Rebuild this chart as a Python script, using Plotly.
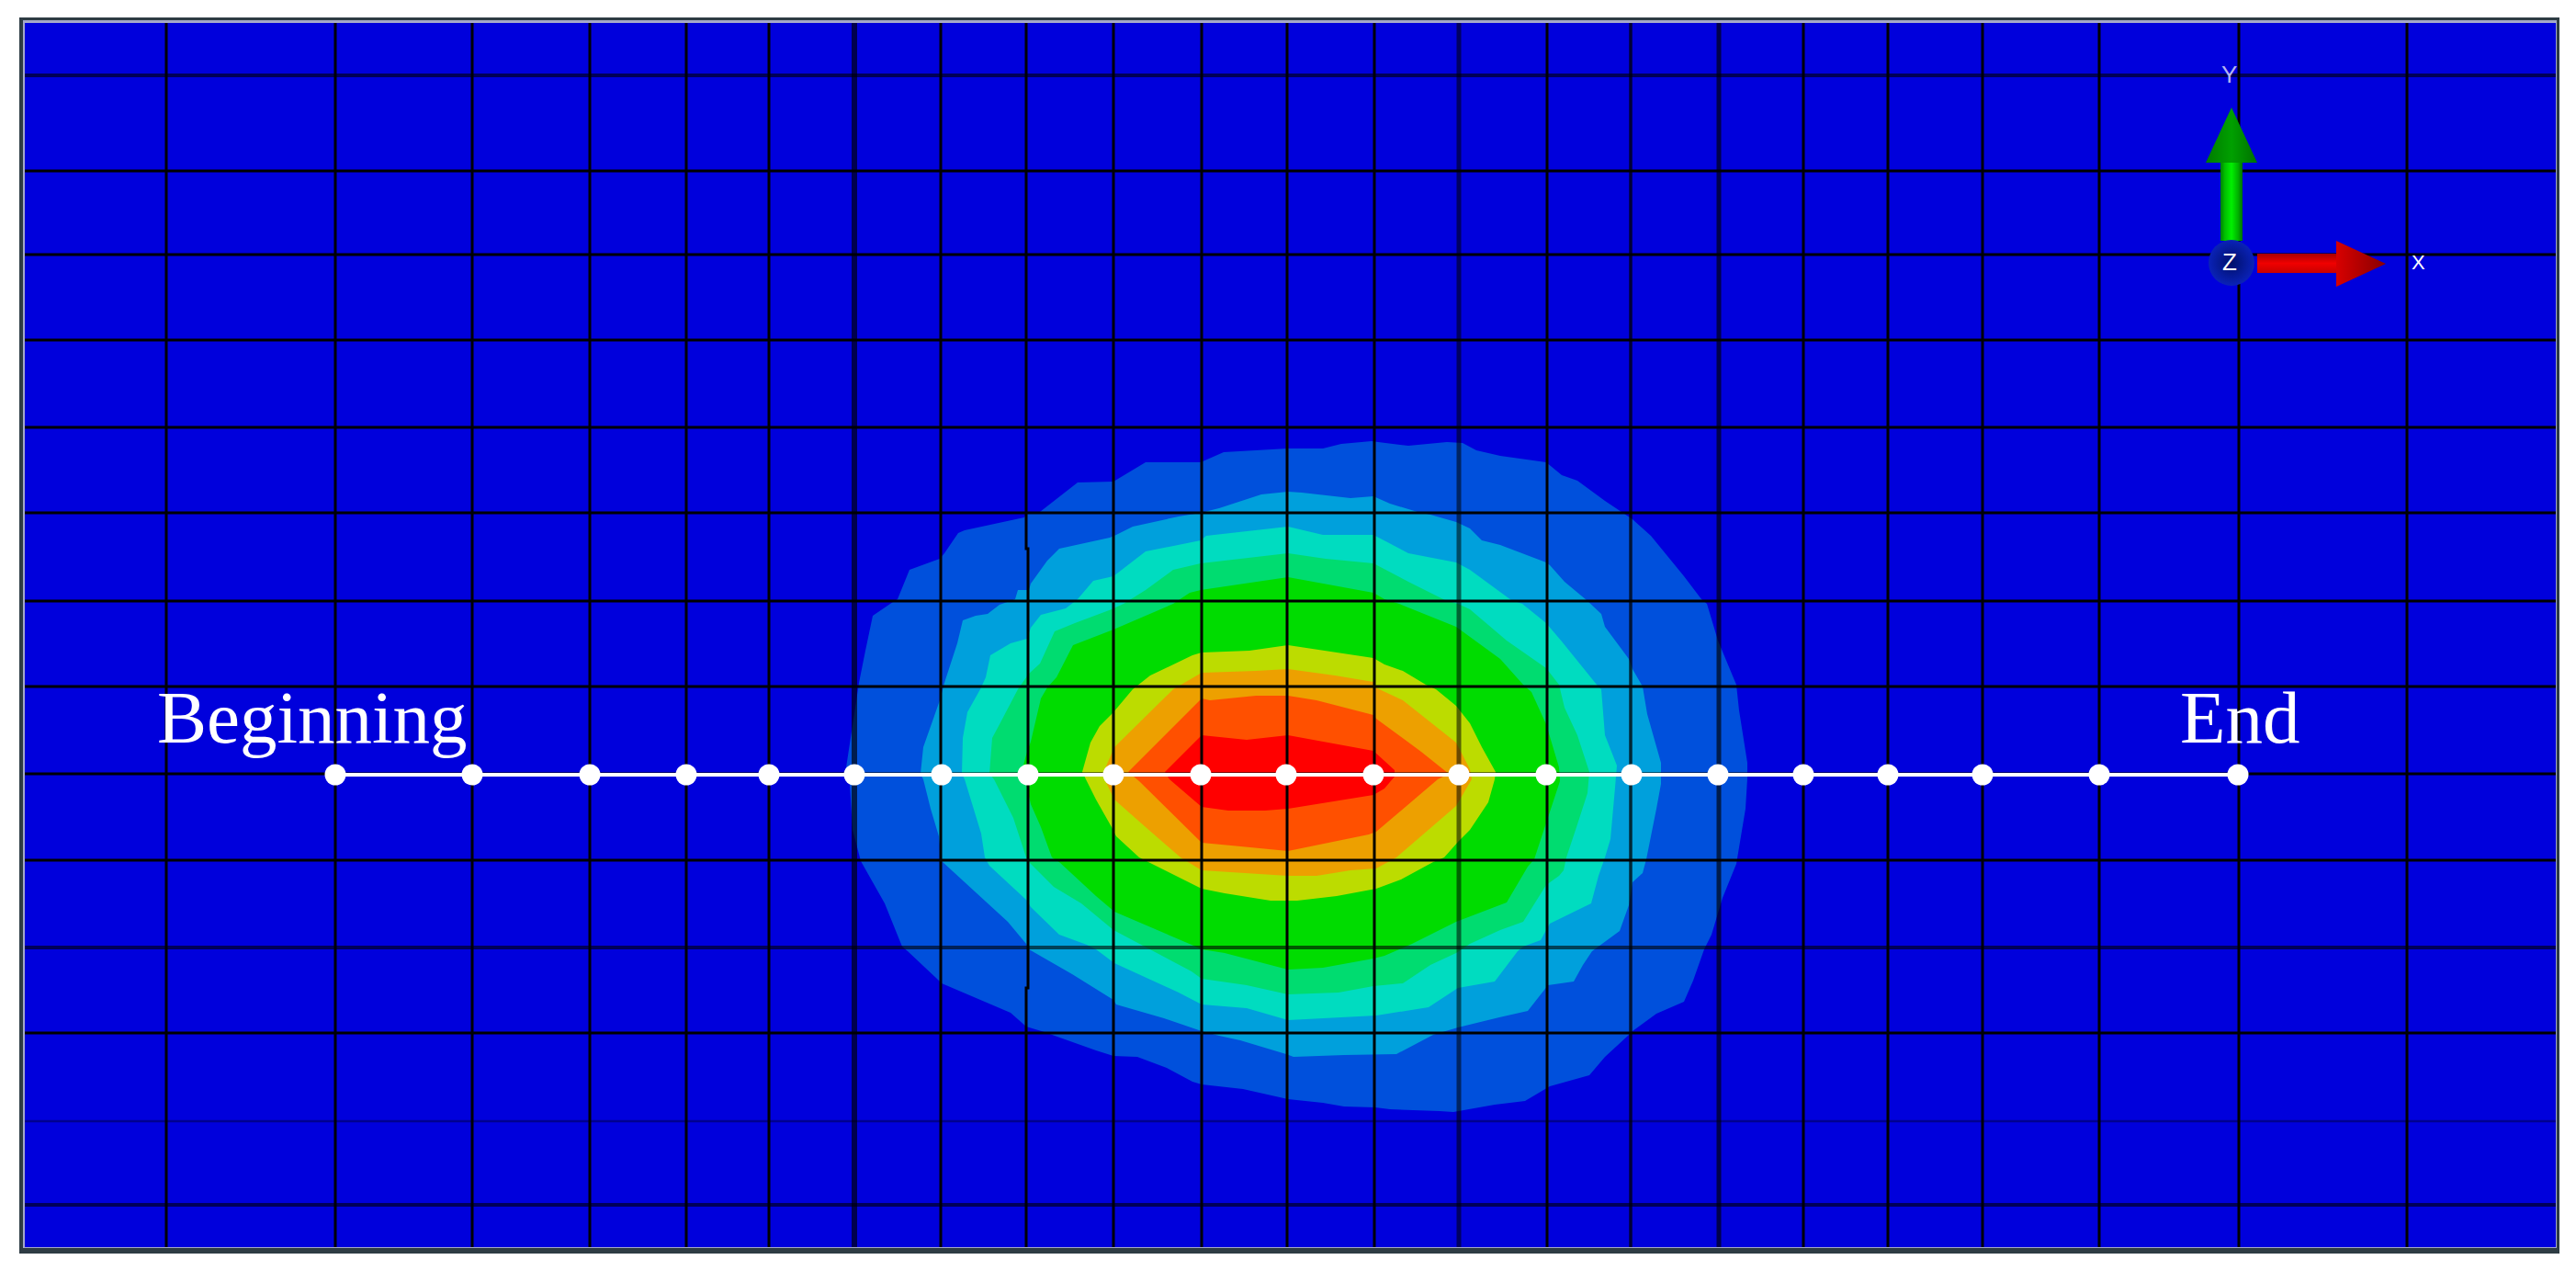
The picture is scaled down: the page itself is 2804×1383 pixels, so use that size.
import plotly.graph_objects as go

WIDTH = 2804
HEIGHT = 1383

# mesh lines
GRID_X = [181, 365, 514, 642, 747, 837, 930, 1024, 1212, 1308, 1401, 1496, 1588,
          1684, 1775, 1871, 1963, 2055, 2158, 2285, 2437, 2620]
GRID_Y = [82, 186, 277, 370, 465, 558, 654, 747, 842, 936, 1031, 1124, 1220, 1311]
# this one steps sideways twice
JOG_X = [1117, 1117, 1119, 1119, 1117, 1117]
JOG_Y = [25, 597, 597, 1075, 1075, 1357]

# path nodes
PATH_X = [365, 514, 642, 747, 837, 930, 1025, 1119, 1212, 1307, 1400, 1495, 1588, 1683,
          1776, 1870, 1963, 2055, 2158, 2285, 2436]
PATH_Y = [843] * len(PATH_X)

# contour bands, outermost first
BAND_COLORS = ["#0050DC", "#00A0DC", "#00DCC0", "#00DC70", "#00DC00",
               "#BCDC00", "#EDA000", "#FF5000", "#FF0000"]
BAND_1 = [(1402, 488), (1440, 488), (1460, 483), (1493, 480), (1500, 481), (1533, 485), (1575, 481),
          (1592, 482), (1607, 490), (1633, 496), (1683, 503), (1700, 517), (1717, 523), (1747, 545),
          (1765, 557), (1777, 565), (1797, 583), (1833, 627), (1852, 652), (1858, 657), (1870, 697),
          (1890, 745), (1893, 773), (1902, 830), (1902, 847), (1900, 880), (1890, 940), (1875, 977),
          (1863, 1017), (1855, 1033), (1843, 1067), (1833, 1090), (1803, 1103), (1777, 1122),
          (1772, 1127), (1747, 1150), (1730, 1170), (1687, 1182), (1660, 1198), (1627, 1202),
          (1582, 1210), (1567, 1209), (1513, 1207), (1497, 1205), (1463, 1204), (1440, 1200),
          (1402, 1196), (1353, 1185), (1308, 1180), (1298, 1177), (1270, 1162), (1238, 1150),
          (1212, 1149), (1193, 1143), (1148, 1127), (1137, 1123), (1117, 1117), (1100, 1102),
          (1025, 1070), (1022, 1067), (988, 1035), (982, 1030), (963, 983), (937, 937), (928, 903),
          (925, 853), (920, 842), (927, 797), (935, 743), (942, 708), (950, 670), (972, 655), (977, 652),
          (990, 620), (1023, 608), (1028, 602), (1043, 580), (1050, 577), (1115, 563), (1117, 559),
          (1132, 557), (1173, 525), (1212, 524), (1247, 503), (1307, 503), (1332, 492)]
BAND_2 = [(1402, 535), (1417, 536), (1470, 542), (1495, 540), (1513, 548), (1543, 557), (1557, 560),
          (1585, 568), (1600, 575), (1613, 588), (1633, 593), (1683, 612), (1687, 615), (1703, 633),
          (1727, 653), (1743, 668), (1747, 682), (1773, 717), (1777, 728), (1788, 747), (1793, 777),
          (1808, 830), (1808, 853), (1803, 880), (1792, 935), (1788, 950), (1777, 960), (1773, 985),
          (1763, 1013), (1740, 1030), (1733, 1035), (1723, 1050), (1713, 1068), (1685, 1072),
          (1663, 1100), (1632, 1107), (1587, 1118), (1560, 1126), (1520, 1147), (1463, 1148),
          (1408, 1150), (1400, 1147), (1350, 1132), (1327, 1127), (1308, 1122), (1267, 1108),
          (1215, 1093), (1212, 1088), (1167, 1060), (1120, 1033), (1117, 1027), (1097, 1003),
          (1075, 983), (1025, 937), (1022, 910), (1013, 880), (1005, 848), (1002, 842), (1005, 813),
          (1023, 762), (1028, 743), (1042, 700), (1048, 675), (1062, 670), (1075, 668), (1088, 658),
          (1105, 652), (1108, 642), (1120, 642), (1122, 635), (1140, 610), (1153, 597), (1208, 585),
          (1215, 582), (1233, 573), (1283, 562), (1307, 558), (1327, 553), (1373, 538)]
BAND_3 = [(1402, 573), (1440, 582), (1495, 582), (1533, 602), (1585, 612), (1600, 620), (1645, 653),
          (1657, 657), (1683, 678), (1700, 698), (1738, 745), (1743, 750), (1747, 800), (1760, 833),
          (1758, 857), (1753, 913), (1747, 933), (1740, 953), (1732, 983), (1687, 1005), (1677, 1023),
          (1658, 1030), (1652, 1035), (1627, 1068), (1587, 1075), (1555, 1096), (1498, 1105),
          (1457, 1107), (1402, 1110), (1357, 1097), (1308, 1093), (1283, 1080), (1213, 1048),
          (1193, 1033), (1183, 1028), (1153, 1017), (1122, 987), (1118, 980), (1077, 942), (1072, 933),
          (1068, 907), (1050, 848), (1047, 842), (1048, 803), (1053, 775), (1067, 750), (1073, 737),
          (1078, 713), (1100, 700), (1118, 695), (1122, 683), (1133, 669), (1160, 662), (1173, 652),
          (1190, 632), (1212, 627), (1247, 600), (1307, 588), (1313, 583)]
BAND_4 = [(1402, 602), (1443, 608), (1495, 613), (1533, 633), (1573, 653), (1587, 657), (1600, 663),
          (1640, 697), (1683, 727), (1697, 745), (1703, 770), (1717, 800), (1730, 840), (1728, 863),
          (1717, 897), (1705, 933), (1702, 947), (1697, 953), (1683, 963), (1658, 1003), (1633, 1012),
          (1600, 1027), (1585, 1037), (1557, 1050), (1527, 1070), (1495, 1073), (1457, 1080),
          (1402, 1082), (1357, 1072), (1308, 1065), (1297, 1057), (1252, 1033), (1212, 1012),
          (1177, 983), (1147, 965), (1120, 938), (1117, 933), (1103, 890), (1082, 848), (1077, 842),
          (1080, 803), (1087, 790), (1108, 750), (1120, 733), (1132, 722), (1148, 687), (1170, 678),
          (1210, 663), (1223, 657), (1247, 642), (1277, 620), (1307, 613)]
BAND_5 = [(1402, 628), (1495, 645), (1507, 652), (1523, 657), (1585, 682), (1633, 717), (1658, 745),
          (1667, 753), (1683, 788), (1697, 835), (1698, 850), (1687, 883), (1678, 910), (1670, 935),
          (1663, 943), (1640, 982), (1585, 1003), (1537, 1027), (1507, 1040), (1495, 1043), (1440, 1053),
          (1402, 1055), (1333, 1037), (1308, 1033), (1297, 1028), (1213, 992), (1193, 975), (1153, 938),
          (1145, 933), (1133, 900), (1122, 875), (1117, 853), (1112, 840), (1118, 818), (1122, 807),
          (1133, 760), (1140, 748), (1150, 737), (1168, 702), (1212, 685), (1277, 657), (1295, 645),
          (1307, 642)]
BAND_6 = [(1402, 702), (1443, 708), (1495, 716), (1507, 723), (1527, 730), (1552, 745), (1563, 750),
          (1585, 768), (1600, 787), (1613, 813), (1628, 840), (1627, 848), (1620, 873), (1600, 903),
          (1588, 915), (1572, 933), (1560, 938), (1525, 957), (1498, 967), (1455, 975), (1412, 980),
          (1383, 980), (1333, 972), (1308, 967), (1250, 938), (1240, 933), (1215, 910), (1210, 900),
          (1193, 870), (1182, 848), (1178, 840), (1187, 808), (1197, 790), (1212, 775), (1233, 750),
          (1252, 735), (1298, 713), (1308, 710), (1360, 708)]
BAND_7 = [(1402, 728), (1453, 735), (1495, 742), (1497, 748), (1527, 762), (1585, 808), (1600, 837),
          (1602, 848), (1585, 877), (1520, 933), (1498, 945), (1470, 947), (1433, 953), (1402, 953),
          (1308, 947), (1285, 933), (1247, 900), (1213, 870), (1200, 843), (1213, 813), (1277, 750),
          (1308, 732), (1367, 730)]
BAND_8 = [(1402, 757), (1433, 762), (1495, 778), (1498, 782), (1547, 818), (1568, 835), (1577, 842),
          (1565, 848), (1498, 905), (1490, 908), (1432, 920), (1402, 926), (1340, 920), (1308, 917),
          (1240, 850), (1228, 840), (1308, 760), (1317, 762), (1367, 757)]
BAND_9 = [(1402, 800), (1440, 807), (1495, 817), (1518, 838), (1518, 845), (1507, 858), (1495, 865),
          (1433, 875), (1402, 880), (1377, 882), (1337, 882), (1308, 878), (1273, 848), (1268, 840),
          (1308, 800), (1357, 805)]
BANDS = [BAND_1, BAND_2, BAND_3, BAND_4, BAND_5, BAND_6, BAND_7, BAND_8, BAND_9]

# triad
Y_SHAFT = [(2417, 177), (2441, 177), (2441, 262), (2417, 262)]
Y_HEAD = [(2401, 177), (2429, 117), (2457, 177)]
X_SHAFT = [(2457, 276), (2543, 276), (2543, 297), (2457, 297)]
X_HEAD = [(2543, 262), (2597, 287), (2543, 312)]


def closed(points):
    xs = [p[0] for p in points]
    ys = [p[1] for p in points]
    return xs + xs[:1], ys + ys[:1]


def add_poly(fig, points, color, name, gradient=None):
    xs, ys = closed(points)
    kw = {"fillcolor": color} if gradient is None else {"fillgradient": gradient}
    fig.add_trace(go.Scatter(x=xs, y=ys, mode="lines", fill="toself", line=dict(width=0),
                             name=name, hoverinfo="skip", showlegend=False, **kw))


def add_mesh_line(fig, xs, ys, color, width):
    fig.add_trace(go.Scatter(x=xs, y=ys, mode="lines", line=dict(color=color, width=width),
                             hoverinfo="skip", showlegend=False))


fig = go.Figure()

for band, color in zip(BANDS, BAND_COLORS):
    add_poly(fig, band, color, color)

# the picture was resampled, so a few mesh lines come out blurred and paler
SOFT_X = {930: ("rgba(0,0,0,0.65)", 6), 1588: ("rgba(0,0,0,0.55)", 5),
          1775: ("rgba(0,0,0,0.75)", 3.5), 1871: ("rgba(0,0,0,0.65)", 5)}
SOFT_Y = {82: ("rgba(0,0,0,0.6)", 4), 1031: ("rgba(0,0,0,0.6)", 4),
          1220: ("rgba(0,0,0,0.35)", 2.5), 1311: ("rgba(0,0,0,0.6)", 4)}
for value in GRID_X:
    color, width = SOFT_X.get(value, ("#000000", 3))
    add_mesh_line(fig, [value, value], [25, 1357], color, width)
add_mesh_line(fig, JOG_X, JOG_Y, "#000000", 3)
for value in GRID_Y:
    color, width = SOFT_Y.get(value, ("#000000", 3))
    add_mesh_line(fig, [27, 2782], [value, value], color, width)

fig.add_trace(go.Scatter(x=PATH_X, y=PATH_Y, mode="lines+markers",
                         line=dict(color="#FFFFFF", width=4),
                         marker=dict(color="#FFFFFF", size=23),
                         hoverinfo="skip", showlegend=False))

green_across = dict(type="horizontal", colorscale=[[0, "#008000"], [0.2, "#00C000"], [0.5, "#00F000"],
                                                   [0.8, "#00B000"], [1, "#007000"]])
green_head = dict(type="horizontal", colorscale=[[0, "#007A00"], [0.5, "#00A000"], [1, "#007000"]])
red_across = dict(type="vertical", colorscale=[[0, "#C80000"], [0.5, "#F00000"], [1, "#A80000"]])
red_head = dict(type="horizontal", colorscale=[[0, "#D80000"], [1, "#880000"]])
add_poly(fig, Y_SHAFT, "#00C000", "Y shaft", green_across)
add_poly(fig, Y_HEAD, "#009000", "Y head", green_head)
add_poly(fig, X_SHAFT, "#E00000", "X shaft", red_across)
add_poly(fig, X_HEAD, "#B00000", "X head", red_head)
fig.add_trace(go.Scatter(x=[2429], y=[286], mode="markers",
                         marker=dict(size=50, color="#0A22B8",
                                     gradient=dict(type="radial", color="#00106A")),
                         hoverinfo="skip", showlegend=False))

fig.add_annotation(x=169, y=808, text="Beginning", showarrow=False, xanchor="left", yanchor="middle",
                   yshift=27, font=dict(family="Liberation Serif", size=81, color="#FFFFFF"))
fig.add_annotation(x=2371, y=808, text="End", showarrow=False, xanchor="left", yanchor="middle",
                   yshift=27, font=dict(family="Liberation Serif", size=81, color="#FFFFFF"))
fig.add_annotation(x=2426, y=81, text="Y", showarrow=False,
                   font=dict(family="Liberation Sans", size=26, color="#B4B4F0"))
fig.add_annotation(x=2427, y=285, text="Z", showarrow=False,
                   font=dict(family="Liberation Sans", size=26, color="#FFFFFF"))
fig.add_annotation(x=2632, y=285, text="X", showarrow=False,
                   font=dict(family="Liberation Sans", size=22, color="#FFFFFF"))

frame = [
    (21, 19, 2786, 1364, "#2E3C44"),
    (25, 22, 2783, 1358, "#A4A8C8"),
    (27, 25, 2782, 1357, "#0000DC"),
]
fig.update_layout(
    width=WIDTH,
    height=HEIGHT,
    margin=dict(l=0, r=0, t=0, b=0),
    paper_bgcolor="#FFFFFF",
    plot_bgcolor="#FFFFFF",
    showlegend=False,
    xaxis=dict(range=[0, WIDTH], visible=False, fixedrange=True),
    yaxis=dict(range=[HEIGHT, 0], visible=False, fixedrange=True),
    shapes=[dict(type="rect", x0=x0, y0=y0, x1=x1, y1=y1, fillcolor=color, line=dict(width=0),
                 layer="below", xref="x", yref="y") for x0, y0, x1, y1, color in frame],
)

fig.write_html("out.html", config={"displayModeBar": False},
               post_script="document.body.style.margin='0';")
